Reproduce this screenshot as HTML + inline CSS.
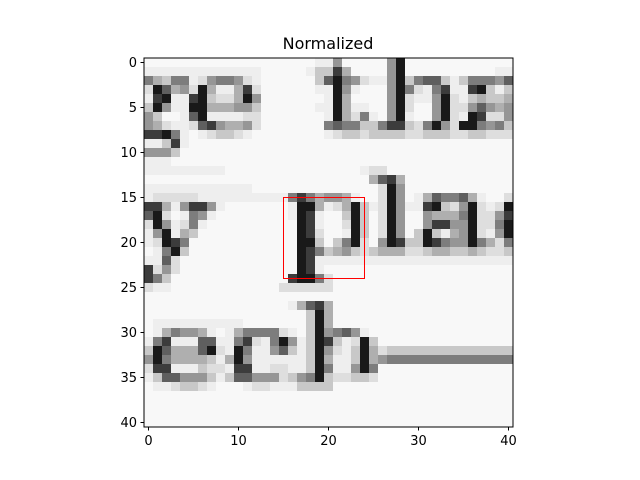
<!DOCTYPE html>
<html><head><meta charset="utf-8"><style>
html,body{margin:0;padding:0;background:#fff;width:640px;height:480px;overflow:hidden}
svg text{font-family:"DejaVu Sans","Liberation Sans",sans-serif;fill:#000}
</style></head><body>
<svg id="chart" width="640" height="480" viewBox="0 0 640 480" xmlns="http://www.w3.org/2000/svg">
<text x="328" y="49" font-size="16" text-anchor="middle">Normalized</text>
<g id="cells"></g>
<g id="overlay"></g>
<rect x="144" y="58" width="369" height="369" fill="none" stroke="#000" stroke-width="1"/>
<g id="xticks"></g>
<g id="yticks"></g>
</svg>
<script>
const pixelRows = [
"00000000000000000001150000059000000000000",
"11111111111110000013384000059000000000011",
"64366125665210000003796521159367731366657",
"29745294114820000001195100059621681189313",
"18911893224950000000194000059211592134334",
"39511994445530000001194110059200592257545",
"53001791111220000000194261059100592198225",
"54211278544520000000676633688326952996563",
"88961012332100000000123323333223332233222",
"11381000000000000000000000000000000000000",
"55530000000000000000000000000000000000000",
"11100000000000000000000000000000000000000",
"11111111100000000000000012200000000000000",
"00000000000000000000000004784000000000000",
"11111111111100000000000000295000000000000",
"12222211111111116864554100295014766741002",
"88415885100000001994124931295118932592129",
"79201651000000001981003930295005444692258",
"29512610000000000981002930295005885592269",
"15914300000000000982001930295039314592159",
"12986000000000000993036920598339865596426",
"01693000000000000986345323444223443343223",
"11720000000000000981111111111111111111111",
"82520000000000000981000000000000000000000",
"86300000000000008996200000000000000000000",
"21100000000000022222200000000000000000000",
"00000000000000000000000000000000000000000",
"00000000000000001478400000000000000000000",
"00000000000000000039400000000000000000000",
"01111111111000000039400000000000000000000",
"01465541014666621039567510000000000000000",
"16811177116821695139831293000000000000000",
"39744479219611573139521394233333333333333",
"59644443149511111139411394566666666666666",
"28811132218811221139611596000000000000000",
"13775553137755523569322332000000000000000",
"01123321000122111333300000000000000000000",
"00000000000000000000000000000000000000000",
"00000000000000000000000000000000000000000",
"00000000000000000000000000000000000000000",
"00000000000000000000000000000000000000000"
];
const xTickValues = [0, 10, 20, 30, 40];
const yTickValues = [0, 5, 10, 15, 20, 25, 30, 35, 40];
const boxCorners = [15, 15, 24, 24];

const NS = "http://www.w3.org/2000/svg";
const N = 41, X0 = 144, Y0 = 58, W = 369;
const cell = W / N;
const grayRamp = [248, 238, 222, 200, 175, 150, 125, 95, 60, 25];
function xScale(v){ return X0 + (v + 0.5) * cell; }
function yScale(v){ return Y0 + (v + 0.5) * cell; }
function shade(level){ const g = grayRamp[level] ?? 248; return "rgb(" + g + "," + g + "," + g + ")"; }

const cellsG = document.getElementById("cells");
for (let r = 0; r < N; r++) {
  const row = (pixelRows[r] || "").padEnd(N, "0").slice(0, N);
  for (let c = 0; c < N; c++) {
    const v = parseInt(row[c], 10) || 0;
    const rect = document.createElementNS(NS, "rect");
    rect.setAttribute("x", (xScale(c) - cell / 2).toFixed(2));
    rect.setAttribute("y", (yScale(r) - cell / 2).toFixed(2));
    rect.setAttribute("width", (cell + 0.3).toFixed(2));
    rect.setAttribute("height", (cell + 0.3).toFixed(2));
    rect.setAttribute("fill", shade(v));
    
    
    cellsG.appendChild(rect);
  }
}

const box = document.createElementNS(NS, "rect");
box.setAttribute("x", xScale(boxCorners[0]));
box.setAttribute("y", yScale(boxCorners[1]));
box.setAttribute("width", xScale(boxCorners[2]) - xScale(boxCorners[0]));
box.setAttribute("height", yScale(boxCorners[3]) - yScale(boxCorners[1]));
box.setAttribute("fill", "none");
box.setAttribute("stroke", "#ff0000");
box.setAttribute("stroke-width", "1");


document.getElementById("overlay").appendChild(box);

const xg = document.getElementById("xticks");
xTickValues.forEach(v => {
  const x = xScale(v);
  const t = document.createElementNS(NS, "line");
  t.setAttribute("x1", x); t.setAttribute("x2", x);
  t.setAttribute("y1", Y0 + W); t.setAttribute("y2", Y0 + W + 3.5);
  t.setAttribute("stroke", "#000");
  
  
  xg.appendChild(t);
  const l = document.createElementNS(NS, "text");
  l.setAttribute("x", x); l.setAttribute("y", Y0 + W + 18);
  l.setAttribute("font-size", "13"); l.setAttribute("text-anchor", "middle");
  l.textContent = v;
  
  
  xg.appendChild(l);
});
const yg = document.getElementById("yticks");
yTickValues.forEach(v => {
  const y = yScale(v);
  const t = document.createElementNS(NS, "line");
  t.setAttribute("x1", X0 - 3.5); t.setAttribute("x2", X0);
  t.setAttribute("y1", y); t.setAttribute("y2", y);
  t.setAttribute("stroke", "#000");
  
  
  yg.appendChild(t);
  const l = document.createElementNS(NS, "text");
  l.setAttribute("x", X0 - 7); l.setAttribute("y", y + 4.5);
  l.setAttribute("font-size", "13"); l.setAttribute("text-anchor", "end");
  l.textContent = v;
  
  
  yg.appendChild(l);
});
</script>
</body></html>
